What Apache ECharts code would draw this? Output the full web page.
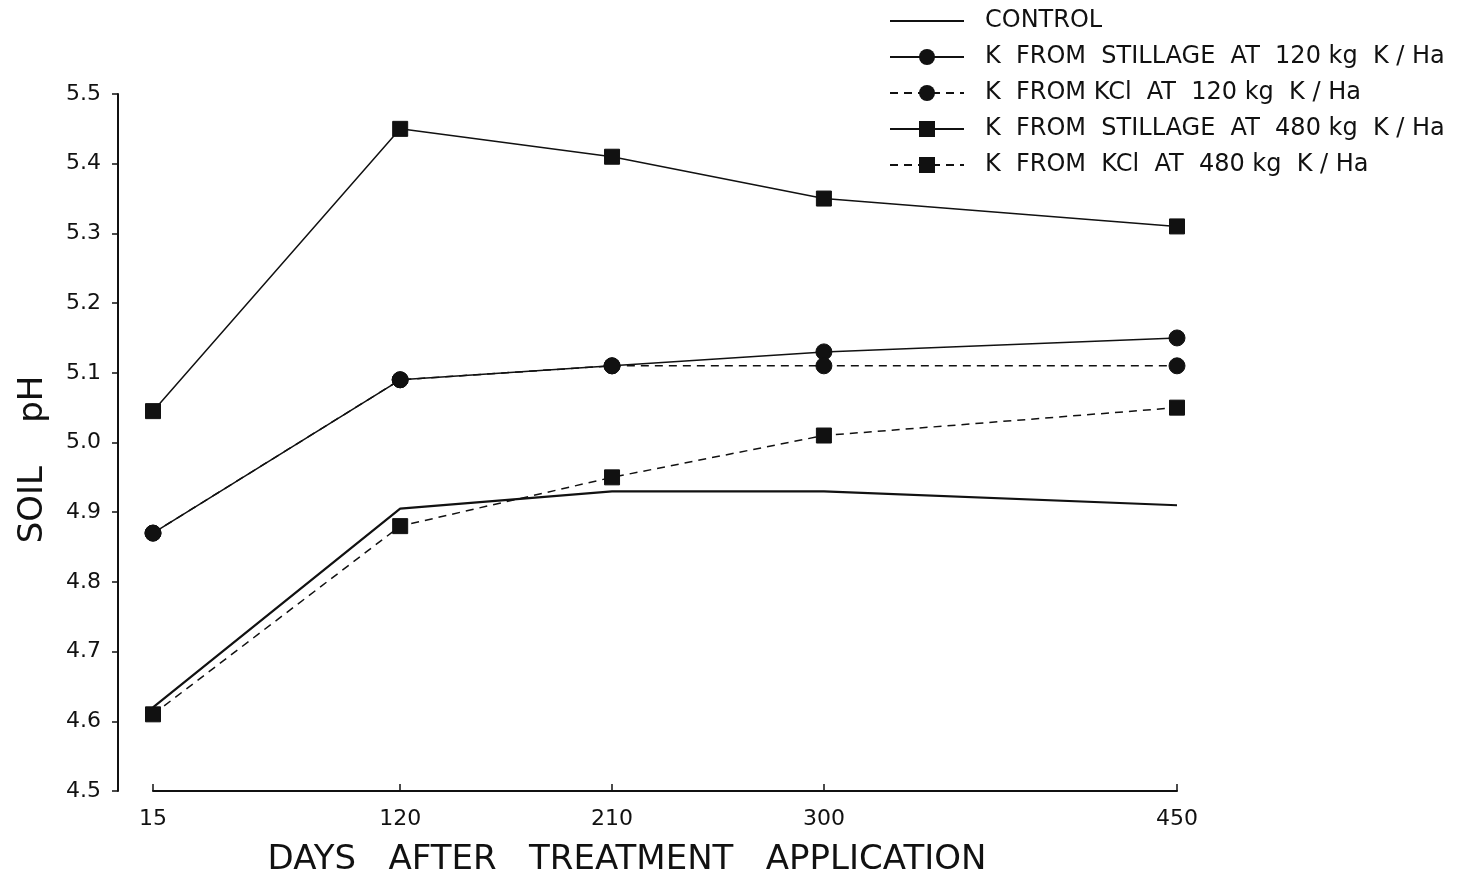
<!DOCTYPE html>
<html>
<head>
<meta charset="utf-8">
<script src="https://cdn.jsdelivr.net/npm/echarts@6/dist/echarts.min.js"></script>
<style>html,body{margin:0;padding:0;background:#fff}#chart{width:1476px;height:878px}</style>
</head>
<body>
<div id="chart"></div>
<script>
const days = [15, 120, 210, 300, 450];
const yTicks = [4.5, 4.6, 4.7, 4.8, 4.9, 5.0, 5.1, 5.2, 5.3, 5.4, 5.5];
const control = [4.62, 4.905, 4.93, 4.93, 4.91];
const stillage120 = [4.87, 5.09, 5.11, 5.13, 5.15];
const kcl120 = [4.87, 5.09, 5.11, 5.11, 5.11];
const stillage480 = [5.045, 5.45, 5.41, 5.35, 5.31];
const kcl480 = [4.61, 4.88, 4.95, 5.01, 5.05];
const names = ['CONTROL', 'K  FROM  STILLAGE  AT  120 kg  K / Ha', 'K  FROM KCl  AT  120 kg  K / Ha', 'K  FROM  STILLAGE  AT  480 kg  K / Ha', 'K  FROM  KCl  AT  480 kg  K / Ha'];

const pair = arr => days.map((d, i) => [d, arr[i]]);
const font = 'DejaVu Sans';
const black = '#111';

function mk(name, data, symbol, size, dashed, width) {
  return {
    name, type: 'line', data: pair(data),
    symbol, symbolSize: size, showSymbol: symbol !== 'none',
    lineStyle: { color: black, width, type: dashed ? [8, 6] : 'solid' },
    itemStyle: { color: black, borderColor: black },
    emphasis: { disabled: true },
    animation: false
  };
}

const chart = echarts.init(document.getElementById('chart'));
chart.setOption({
  backgroundColor: '#fff',
  animation: false,
  grid: { left: 153, right: 299, top: 94, bottom: 87, containLabel: false, outerBoundsMode: 'none' },
  legend: {
    orient: 'vertical', left: 884, top: 4,
    itemWidth: 74, itemHeight: 20, itemGap: 12,
    textStyle: { fontFamily: font, fontSize: 24, color: black, padding: [0, 0, 0, 16] },
    data: [
      { name: names[0], itemStyle: { opacity: 0 } },
      names[1], names[2], names[3], names[4]
    ]
  },
  xAxis: {
    type: 'value', min: 15, max: 450,
    axisLine: { lineStyle: { color: black, width: 2 } },
    axisTick: { show: true, inside: true, length: 7, lineStyle: { color: black, width: 1.5 }, customValues: days },
    axisLabel: { customValues: days, margin: 17, fontFamily: font, fontSize: 22, color: black },
    splitLine: { show: false },
    name: 'DAYS   AFTER   TREATMENT   APPLICATION',
    nameLocation: 'middle', nameGap: 52,
    nameTextStyle: { fontFamily: font, fontSize: 34, color: black, padding: [0, 76, 0, 0] }
  },
  yAxis: {
    type: 'value', min: 4.5, max: 5.5, interval: 0.1, offset: 35,
    axisLine: { show: true, lineStyle: { color: black, width: 2 } },
    axisTick: { show: true, inside: false, length: 6, lineStyle: { color: black, width: 1.5 } },
    axisLabel: { margin: 17, fontFamily: font, fontSize: 22, color: black, formatter: v => v.toFixed(1) },
    splitLine: { show: false },
    name: 'SOIL    pH',
    nameLocation: 'middle', nameRotate: 90, nameGap: 68,
    nameTextStyle: { fontFamily: font, fontSize: 34, color: black, padding: [0, 34, 0, 0] }
  },
  series: [
    mk(names[0], control, 'none', 0, false, 2.2),
    mk(names[1], stillage120, 'circle', 16, false, 1.5),
    mk(names[2], kcl120, 'circle', 16, true, 1.5),
    mk(names[3], stillage480, 'rect', 15, false, 1.5),
    mk(names[4], kcl480, 'rect', 15, true, 1.5)
  ]
});
</script>
</body>
</html>
